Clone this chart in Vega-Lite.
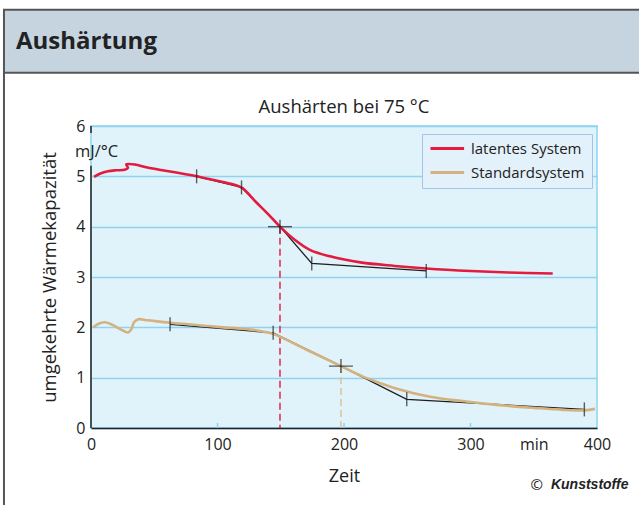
{
  "$schema": "https://vega.github.io/schema/vega-lite/v6.json",
  "width": 506,
  "height": 302,
  "autosize": {"type": "none"},
  "padding": {"left": 91, "top": 126, "right": 42, "bottom": 77},
  "background": "white",
  "config": {
    "font": "Open Sans",
    "view": {"fill": "#e0f2fa", "stroke": "#8fd3f0", "strokeWidth": 1.5},
    "legend": {
      "orient": "none",
      "legendX": 331,
      "legendY": 8,
      "padding": 7,
      "fillColor": "#e3f1fa",
      "strokeColor": "#a3c4ea",
      "symbolType": "M-1,0H4.6",
      "symbolSize": 144,
      "symbolStrokeWidth": 3,
      "labelFontSize": 15,
      "labelColor": "#222",
      "labelOffset": 27,
      "rowPadding": 8
    }
  },
  "datasets": {
    "curves": [
      {"series": "latentes System", "o": 1, "t": 2.4, "v": 4.99},
      {"series": "latentes System", "o": 2, "t": 7, "v": 5.05},
      {"series": "latentes System", "o": 3, "t": 13.4, "v": 5.1},
      {"series": "latentes System", "o": 4, "t": 20, "v": 5.12},
      {"series": "latentes System", "o": 5, "t": 26.6, "v": 5.13},
      {"series": "latentes System", "o": 6, "t": 29.2, "v": 5.17},
      {"series": "latentes System", "o": 7, "t": 27.9, "v": 5.24},
      {"series": "latentes System", "o": 8, "t": 35.8, "v": 5.23},
      {"series": "latentes System", "o": 9, "t": 43.7, "v": 5.18},
      {"series": "latentes System", "o": 10, "t": 83.5, "v": 5.0},
      {"series": "latentes System", "o": 11, "t": 115, "v": 4.82},
      {"series": "latentes System", "o": 12, "t": 120, "v": 4.76},
      {"series": "latentes System", "o": 13, "t": 130, "v": 4.5},
      {"series": "latentes System", "o": 14, "t": 140, "v": 4.25},
      {"series": "latentes System", "o": 15, "t": 149.4, "v": 4.0},
      {"series": "latentes System", "o": 16, "t": 160, "v": 3.76},
      {"series": "latentes System", "o": 17, "t": 173, "v": 3.54},
      {"series": "latentes System", "o": 18, "t": 189, "v": 3.41},
      {"series": "latentes System", "o": 19, "t": 213, "v": 3.29},
      {"series": "latentes System", "o": 20, "t": 240, "v": 3.22},
      {"series": "latentes System", "o": 21, "t": 265, "v": 3.17},
      {"series": "latentes System", "o": 22, "t": 300, "v": 3.12},
      {"series": "latentes System", "o": 23, "t": 330, "v": 3.09},
      {"series": "latentes System", "o": 24, "t": 365, "v": 3.07},
      {"series": "Standardsystem", "o": 1, "t": 1.8, "v": 2.0},
      {"series": "Standardsystem", "o": 2, "t": 6, "v": 2.07},
      {"series": "Standardsystem", "o": 3, "t": 11, "v": 2.1},
      {"series": "Standardsystem", "o": 4, "t": 17, "v": 2.05},
      {"series": "Standardsystem", "o": 5, "t": 24, "v": 1.95},
      {"series": "Standardsystem", "o": 6, "t": 29.5, "v": 1.9},
      {"series": "Standardsystem", "o": 7, "t": 32, "v": 1.97},
      {"series": "Standardsystem", "o": 8, "t": 34, "v": 2.1},
      {"series": "Standardsystem", "o": 9, "t": 37.4, "v": 2.16},
      {"series": "Standardsystem", "o": 10, "t": 45, "v": 2.14},
      {"series": "Standardsystem", "o": 11, "t": 62.5, "v": 2.09},
      {"series": "Standardsystem", "o": 12, "t": 100, "v": 2.01},
      {"series": "Standardsystem", "o": 13, "t": 128, "v": 1.95},
      {"series": "Standardsystem", "o": 14, "t": 137, "v": 1.91},
      {"series": "Standardsystem", "o": 15, "t": 144, "v": 1.87},
      {"series": "Standardsystem", "o": 16, "t": 170, "v": 1.56},
      {"series": "Standardsystem", "o": 17, "t": 197.6, "v": 1.23},
      {"series": "Standardsystem", "o": 18, "t": 215, "v": 1.02},
      {"series": "Standardsystem", "o": 19, "t": 230, "v": 0.88},
      {"series": "Standardsystem", "o": 20, "t": 241.7, "v": 0.78},
      {"series": "Standardsystem", "o": 21, "t": 268, "v": 0.62},
      {"series": "Standardsystem", "o": 22, "t": 295, "v": 0.53},
      {"series": "Standardsystem", "o": 23, "t": 320.7, "v": 0.46},
      {"series": "Standardsystem", "o": 24, "t": 350, "v": 0.4},
      {"series": "Standardsystem", "o": 25, "t": 373, "v": 0.36},
      {"series": "Standardsystem", "o": 26, "t": 390, "v": 0.35},
      {"series": "Standardsystem", "o": 27, "t": 398.4, "v": 0.38}
    ],
    "fits": [
      {"group": "latentes System", "o": 1, "t": 83.5, "v": 5.0},
      {"group": "latentes System", "o": 2, "t": 119, "v": 4.78},
      {"group": "latentes System", "o": 3, "t": 149.4, "v": 4.0},
      {"group": "latentes System", "o": 4, "t": 174.5, "v": 3.27},
      {"group": "latentes System", "o": 5, "t": 265, "v": 3.12},
      {"group": "Standardsystem", "o": 1, "t": 62.5, "v": 2.06},
      {"group": "Standardsystem", "o": 2, "t": 144, "v": 1.89},
      {"group": "Standardsystem", "o": 3, "t": 197.6, "v": 1.23},
      {"group": "Standardsystem", "o": 4, "t": 249.6, "v": 0.57},
      {"group": "Standardsystem", "o": 5, "t": 390, "v": 0.37}
    ],
    "tickpts": [
      {"group": "latentes System", "t": 83.5, "v": 5.0, "cross": false},
      {"group": "latentes System", "t": 119, "v": 4.78, "cross": false},
      {"group": "latentes System", "t": 149.4, "v": 4.0, "cross": true},
      {"group": "latentes System", "t": 174.5, "v": 3.27, "cross": false},
      {"group": "latentes System", "t": 265, "v": 3.12, "cross": false},
      {"group": "Standardsystem", "t": 62.5, "v": 2.06, "cross": false},
      {"group": "Standardsystem", "t": 144, "v": 1.89, "cross": false},
      {"group": "Standardsystem", "t": 197.6, "v": 1.23, "cross": true},
      {"group": "Standardsystem", "t": 249.6, "v": 0.57, "cross": false},
      {"group": "Standardsystem", "t": 390, "v": 0.37, "cross": false}
    ]
  },
  "layer": [
    {
      "data": {"name": "curves"},
      "mark": {"type": "line", "opacity": 0},
      "encoding": {
        "x": {
          "field": "t", "type": "quantitative",
          "scale": {"domain": [0, 400], "nice": false},
          "axis": {
            "title": "Zeit",
            "values": [0, 100, 200, 300, 350, 400],
            "labelExpr": "datum.value == 350 ? 'min' : datum.label",
            "ticks": false, "grid": false,
            "domainColor": "#222", "domainWidth": 1.5,
            "labelFontSize": 16, "labelColor": "#222", "labelPadding": 8, "labelFlush": false,
            "titleFontSize": 18, "titleFontWeight": "normal", "titleColor": "#222", "titlePadding": 15
          }
        },
        "y": {
          "field": "v", "type": "quantitative",
          "scale": {"domain": [0, 6], "nice": false},
          "axis": {
            "title": "umgekehrte Wärmekapazität",
            "values": [0, 1, 2, 3, 4, 5, 6],
            "ticks": false, "domain": false,
            "grid": true, "gridColor": "#8fd3f0", "gridWidth": 1.3, "gridOpacity": 1,
            "labelFontSize": 16, "labelColor": "#222", "labelPadding": 6,
            "titleFontSize": 18.5, "titleFontWeight": "normal", "titleColor": "#222", "titlePadding": 16
          }
        },
        "detail": {"field": "series"},
        "order": {"field": "o"}
      }
    },
    {
      "data": {"values": [{"label": "Aushärtung"}]},
      "mark": {"type": "rect", "fill": "#c5d4df", "stroke": "#555", "strokeWidth": 2, "clip": false},
      "encoding": {
        "x": {"datum": -68.8, "type": "quantitative"},
        "x2": {"datum": 460},
        "y": {"datum": 8.31, "type": "quantitative"},
        "y2": {"datum": 7.06}
      }
    },
    {
      "data": {"values": [{"label": "Aushärtung"}]},
      "mark": {"type": "rule", "color": "#555", "strokeWidth": 2},
      "encoding": {
        "x": {"datum": -68.8, "type": "quantitative"},
        "y": {"datum": 7.06, "type": "quantitative"},
        "y2": {"datum": -1.7}
      }
    },
    {
      "data": {"values": [{"label": "Aushärtung"}]},
      "mark": {"type": "text", "align": "left", "baseline": "alphabetic", "fontSize": 24, "fontWeight": "bold", "font": "Open Sans", "color": "#222"},
      "encoding": {
        "x": {"datum": -59.3, "type": "quantitative"},
        "y": {"datum": 7.53, "type": "quantitative"},
        "text": {"field": "label"}
      }
    },
    {
      "data": {"values": [{"label": "Aushärten bei 75 °C"}]},
      "mark": {"type": "text", "align": "center", "baseline": "middle", "fontSize": 18.5, "color": "#222"},
      "encoding": {
        "x": {"datum": 200, "type": "quantitative"},
        "y": {"datum": 6.38, "type": "quantitative"},
        "text": {"field": "label"}
      }
    },
    {
      "data": {"values": [{"t": 100}, {"t": 200}, {"t": 300}]},
      "mark": {"type": "rule", "color": "#8fd3f0", "strokeWidth": 1.5},
      "encoding": {
        "x": {"field": "t", "type": "quantitative"},
        "y": {"datum": 0, "type": "quantitative"},
        "y2": {"datum": 0.1}
      }
    },
    {
      "data": {"name": "tickpts"},
      "transform": [{"filter": "datum.cross && datum.group == 'latentes System'"}],
      "mark": {"type": "rule", "color": "#e0284a", "strokeWidth": 1.5, "strokeDash": [7, 4]},
      "encoding": {
        "x": {"field": "t", "type": "quantitative"},
        "y": {"field": "v", "type": "quantitative"},
        "y2": {"datum": 0}
      }
    },
    {
      "data": {"name": "tickpts"},
      "transform": [{"filter": "datum.cross && datum.group == 'Standardsystem'"}],
      "mark": {"type": "rule", "color": "#dcc39c", "strokeWidth": 1.5, "strokeDash": [7, 4]},
      "encoding": {
        "x": {"field": "t", "type": "quantitative"},
        "y": {"field": "v", "type": "quantitative"},
        "y2": {"datum": 0}
      }
    },
    {
      "data": {"name": "fits"},
      "mark": {"type": "line", "color": "#1e1e1e", "strokeWidth": 1.3},
      "encoding": {
        "x": {"field": "t", "type": "quantitative"},
        "y": {"field": "v", "type": "quantitative"},
        "detail": {"field": "group"},
        "order": {"field": "o"}
      }
    },
    {
      "data": {"name": "curves"},
      "mark": {"type": "line", "strokeWidth": 2.6, "interpolate": "catmull-rom"},
      "encoding": {
        "x": {"field": "t", "type": "quantitative"},
        "y": {"field": "v", "type": "quantitative"},
        "color": {
          "field": "series", "type": "nominal",
          "scale": {"domain": ["latentes System", "Standardsystem"], "range": ["#e31b3f", "#d4b27f"]},
          "legend": {"title": null}
        },
        "order": {"field": "o"}
      }
    },
    {
      "data": {"name": "tickpts"},
      "mark": {"type": "tick", "orient": "vertical", "size": 14, "thickness": 1.4, "color": "#1e1e1e"},
      "encoding": {
        "x": {"field": "t", "type": "quantitative"},
        "y": {"field": "v", "type": "quantitative"}
      }
    },
    {
      "data": {"name": "tickpts"},
      "transform": [{"filter": "datum.cross"}],
      "mark": {"type": "tick", "orient": "horizontal", "size": 24, "thickness": 1.4, "color": "#1e1e1e"},
      "encoding": {
        "x": {"field": "t", "type": "quantitative"},
        "y": {"field": "v", "type": "quantitative"}
      }
    },
    {
      "data": {"values": [{"a": 0, "b": 5.21}, {"a": 5.86, "b": 6}]},
      "mark": {"type": "rule", "color": "#222", "strokeWidth": 1.5},
      "encoding": {
        "x": {"datum": 0, "type": "quantitative"},
        "y": {"field": "a", "type": "quantitative"},
        "y2": {"field": "b"}
      }
    },
    {
      "data": {"values": [{"label": "mJ/°C"}]},
      "mark": {"type": "text", "align": "left", "baseline": "middle", "fontSize": 16.5, "color": "#222", "dx": -16},
      "encoding": {
        "x": {"datum": 0, "type": "quantitative"},
        "y": {"datum": 5.49, "type": "quantitative"},
        "text": {"field": "label"}
      }
    },
    {
      "data": {"values": [{"label": "©"}]},
      "mark": {"type": "text", "align": "center", "baseline": "middle", "fontSize": 15, "color": "#222"},
      "encoding": {
        "x": {"datum": 352.3, "type": "quantitative"},
        "y": {"datum": -1.133, "type": "quantitative"},
        "text": {"field": "label"}
      }
    },
    {
      "data": {"values": [{"label": "Kunststoffe"}]},
      "mark": {"type": "text", "align": "left", "baseline": "middle", "fontSize": 14, "fontWeight": "bold", "fontStyle": "italic", "font": "Liberation Sans", "color": "#222"},
      "encoding": {
        "x": {"datum": 363.6, "type": "quantitative"},
        "y": {"datum": -1.133, "type": "quantitative"},
        "text": {"field": "label"}
      }
    }
  ]
}
